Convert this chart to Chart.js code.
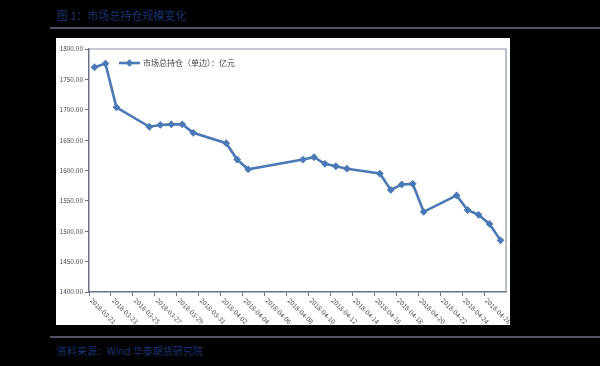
<!DOCTYPE html>
<html>
<head>
<meta charset="utf-8">
<script src="https://cdn.jsdelivr.net/npm/chart.js@4/dist/chart.umd.min.js"></script>
<style>
  html, body { margin: 0; padding: 0; background: #000; }
  body { width: 600px; height: 366px; position: relative; overflow: hidden; font-family: "Noto Sans CJK SC", "Noto Sans", sans-serif; }
  .title { position: absolute; left: 57px; top: 8px; font-size: 11px; line-height: 14px; color: #1a336e; }
  .rule { position: absolute; left: 50px; width: 550px; height: 2px; background: #4f5566; }
  .source { position: absolute; left: 57px; top: 344px; font-size: 10px; line-height: 13px; color: #1a336e; }
  .box { position: absolute; left: 56px; top: 38px; width: 454px; height: 287px; background: #fff; }
</style>
</head>
<body>
<div class="title">图 1：市场总持仓规模变化</div>
<div class="rule" style="top:27px"></div>
<div class="box"><canvas id="chart" width="454" height="287"></canvas></div>
<div class="rule" style="top:336px"></div>
<div class="source">资料来源：Wind 华泰期货研究院</div>

<script>
// trading days and the series (亿元)
const tradeDates = [
  "2018-03-21", "2018-03-22", "2018-03-23", "2018-03-26", "2018-03-27",
  "2018-03-28", "2018-03-29", "2018-03-30", "2018-04-02", "2018-04-03",
  "2018-04-04", "2018-04-09", "2018-04-10", "2018-04-11", "2018-04-12",
  "2018-04-13", "2018-04-16", "2018-04-17", "2018-04-18", "2018-04-19",
  "2018-04-20", "2018-04-23", "2018-04-24", "2018-04-25", "2018-04-26",
  "2018-04-27"
];
const holdings = [
  1770, 1776, 1704, 1672, 1675,
  1676, 1676, 1662, 1645, 1618,
  1602, 1618, 1622, 1611, 1607,
  1603, 1595, 1568, 1577, 1578,
  1532, 1559, 1535, 1527, 1512,
  1485
];
const seriesName = "市场总持仓（单边）：亿元";
const yMin = 1400;
const yMax = 1800;
const yStep = 50;
const xLabelEvery = 2;

const LINE = "#4a79b6";
const AXIS = "#6b7286";
const FRAME = "#8e93a3";
const TEXT = "#4a4a55";
const FONT = "'Noto Sans CJK SC', 'Noto Sans', sans-serif";

function buildCalendar(first, last) {
  const out = [];
  const d = new Date(first + "T00:00:00Z");
  const end = new Date(last + "T00:00:00Z");
  while (d <= end) {
    out.push(d.toISOString().slice(0, 10));
    d.setUTCDate(d.getUTCDate() + 1);
  }
  return out;
}

const days = buildCalendar(tradeDates[0], tradeDates[tradeDates.length - 1]);
const lookup = {};
tradeDates.forEach((t, i) => { lookup[t] = holdings[i]; });
const values = days.map(d => (d in lookup ? lookup[d] : null));

function drawDiamond(ctx, x, y, r) {
  ctx.beginPath();
  ctx.moveTo(x, y - r);
  ctx.lineTo(x + r, y);
  ctx.lineTo(x, y + r);
  ctx.lineTo(x - r, y);
  ctx.closePath();
  ctx.fill();
}

const framePlugin = {
  id: "frame",
  afterDraw(chart) {
    const ctx = chart.ctx;
    const area = chart.chartArea;
    const xs = chart.scales.x;

    ctx.save();
    // top and right edges of the plot box
    ctx.strokeStyle = FRAME;
    ctx.lineWidth = 1.2;
    ctx.beginPath();
    ctx.moveTo(area.left, area.top);
    ctx.lineTo(area.right, area.top);
    ctx.lineTo(area.right, area.bottom);
    ctx.stroke();

    // slanted date labels, running down to the right
    ctx.fillStyle = TEXT;
    ctx.font = "6.5px " + FONT;
    ctx.textAlign = "left";
    ctx.textBaseline = "top";
    days.forEach((d, i) => {
      if (i % xLabelEvery !== 0 || i === days.length - 1) return;
      const x = xs.getPixelForTick(i);
      ctx.save();
      ctx.translate(x - 1, area.bottom + 5);
      ctx.rotate(Math.PI / 4);
      ctx.fillText(d, 0, 0);
      ctx.restore();
    });

    // legend
    const lx = area.left + 30;
    const ly = area.top + 14;
    ctx.strokeStyle = LINE;
    ctx.fillStyle = LINE;
    ctx.lineWidth = 2.6;
    ctx.beginPath();
    ctx.moveTo(lx, ly);
    ctx.lineTo(lx + 21, ly);
    ctx.stroke();
    drawDiamond(ctx, lx + 10.5, ly, 3.8);
    ctx.fillStyle = "#404040";
    ctx.font = "8px " + FONT;
    ctx.textBaseline = "middle";
    ctx.fillText(seriesName, lx + 24, ly);
    ctx.restore();
  }
};

new Chart(document.getElementById("chart"), {
  type: "line",
  data: {
    labels: days,
    datasets: [{
      label: seriesName,
      data: values,
      spanGaps: true,
      borderColor: LINE,
      backgroundColor: LINE,
      borderWidth: 2.6,
      pointStyle: "rectRot",
      pointRadius: 3.9,
      pointHoverRadius: 3.9,
      pointBorderWidth: 0,
      tension: 0
    }]
  },
  options: {
    responsive: false,
    animation: false,
    layout: { padding: { top: 11, right: 4, left: 0, bottom: 0 } },
    plugins: {
      legend: { display: false },
      tooltip: { enabled: false }
    },
    scales: {
      x: {
        offset: true,
        grid: {
          drawOnChartArea: false,
          offset: true,
          tickLength: 4,
          lineWidth: 1,
          color: ctx => (ctx.index !== undefined && ctx.index % xLabelEvery === 0 ? AXIS : "transparent")
        },
        border: { color: AXIS, width: 1.5 },
        ticks: { display: false, autoSkip: false },
        afterFit: s => { s.height = 33; }
      },
      y: {
        min: yMin,
        max: yMax,
        ticks: {
          stepSize: yStep,
          callback: v => v.toFixed(2),
          font: { size: 6.5, family: FONT },
          color: TEXT,
          padding: 2
        },
        grid: { drawOnChartArea: false, tickLength: 4, color: AXIS },
        border: { color: AXIS, width: 1.5 },
        afterFit: s => { s.width = 33; }
      }
    }
  },
  plugins: [framePlugin]
});
</script>
</body>
</html>
